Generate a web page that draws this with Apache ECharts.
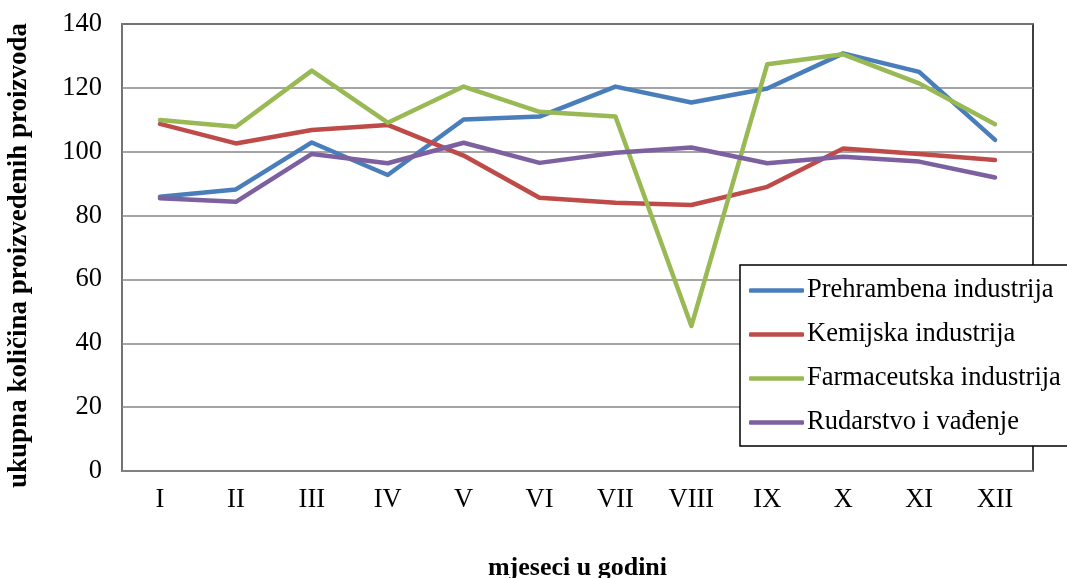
<!DOCTYPE html>
<html>
<head>
<meta charset="utf-8">
<script src="https://cdn.jsdelivr.net/npm/echarts@6/dist/echarts.min.js"></script>
<style>
html,body{margin:0;padding:0;background:#fff;}
#chart{width:1067px;height:578px;}
</style>
</head>
<body>
<div id="chart"></div>
<script>
const categories = ['I','II','III','IV','V','VI','VII','VIII','IX','X','XI','XII'];
const prehrambena = [85.9, 88.2, 102.9, 92.7, 110.1, 111, 120.4, 115.4, 119.8, 130.8, 125, 103.7];
const kemijska = [108.7, 102.6, 106.8, 108.4, 98.8, 85.6, 84, 83.3, 89, 101, 99.3, 97.4];
const farmaceutska = [109.9, 107.8, 125.4, 109.1, 120.4, 112.5, 111, 45.4, 127.4, 130.5, 121.4, 108.6];
const rudarstvo = [85.4, 84.3, 99.3, 96.4, 102.8, 96.5, 99.7, 101.3, 96.4, 98.4, 96.9, 91.9];
const seriesNames = ['Prehrambena industrija','Kemijska industrija','Farmaceutska industrija','Rudarstvo i vađenje'];
const colors = ['#4A7EBB','#BE4B48','#98B954','#7D60A0'];
const yTicks = {min: 0, max: 140, interval: 20};

const chart = echarts.init(document.getElementById('chart'));
const font = '"Liberation Serif", "Times New Roman", serif';
const dataSets = [prehrambena, kemijska, farmaceutska, rudarstvo];
chart.setOption({
  animation: false,
  backgroundColor: '#fff',
  textStyle: {fontFamily: font},
  grid: {left: 122, right: 34, top: 24, bottom: 107, containLabel: false, outerBoundsMode: 'none',
         show: true, borderColor: '#000', borderWidth: 1.5, backgroundColor: 'transparent'},
  legend: {
    orient: 'vertical', left: 740, top: 265,
    backgroundColor: '#fff', borderColor: '#000', borderWidth: 1.5,
    padding: [12, 8, 10, 9],
    itemGap: 17, itemWidth: 55, itemHeight: 4.5,
    icon: 'roundRect',
    textStyle: {fontFamily: font, fontSize: 26.5, color: '#000', padding: [0, 0, 0, -2]},
    data: seriesNames
  },
  xAxis: {
    type: 'category', data: categories, boundaryGap: true,
    name: 'mjeseci u godini', nameLocation: 'middle', nameGap: 84,
    nameTextStyle: {fontFamily: font, fontSize: 26, fontWeight: 'bold', color: '#000', verticalAlign: 'top'},
    axisLine: {lineStyle: {color: '#868686', width: 1.5}},
    axisTick: {show: false},
    axisLabel: {fontFamily: font, fontSize: 26.5, color: '#000', margin: 16}
  },
  yAxis: {
    type: 'value', min: yTicks.min, max: yTicks.max, interval: yTicks.interval,
    name: 'ukupna količina proizvedenih proizvoda', nameLocation: 'middle', nameGap: 89,
    nameTextStyle: {fontFamily: font, fontSize: 27, fontWeight: 'bold', color: '#000', padding: [0, 16, 0, 0]},
    axisLine: {show: true, lineStyle: {color: '#868686', width: 1.5}},
    axisTick: {show: false},
    splitLine: {lineStyle: {color: '#868686', width: 1.5}},
    axisLabel: {fontFamily: font, fontSize: 26.5, color: '#000', margin: 20}
  },
  series: seriesNames.map((n, i) => ({
    name: n, type: 'line', data: dataSets[i],
    symbol: 'none', color: colors[i],
    lineStyle: {width: 4.5, color: colors[i], cap: 'round', join: 'round'},
    itemStyle: {color: colors[i]}
  }))
});
</script>
</body>
</html>
